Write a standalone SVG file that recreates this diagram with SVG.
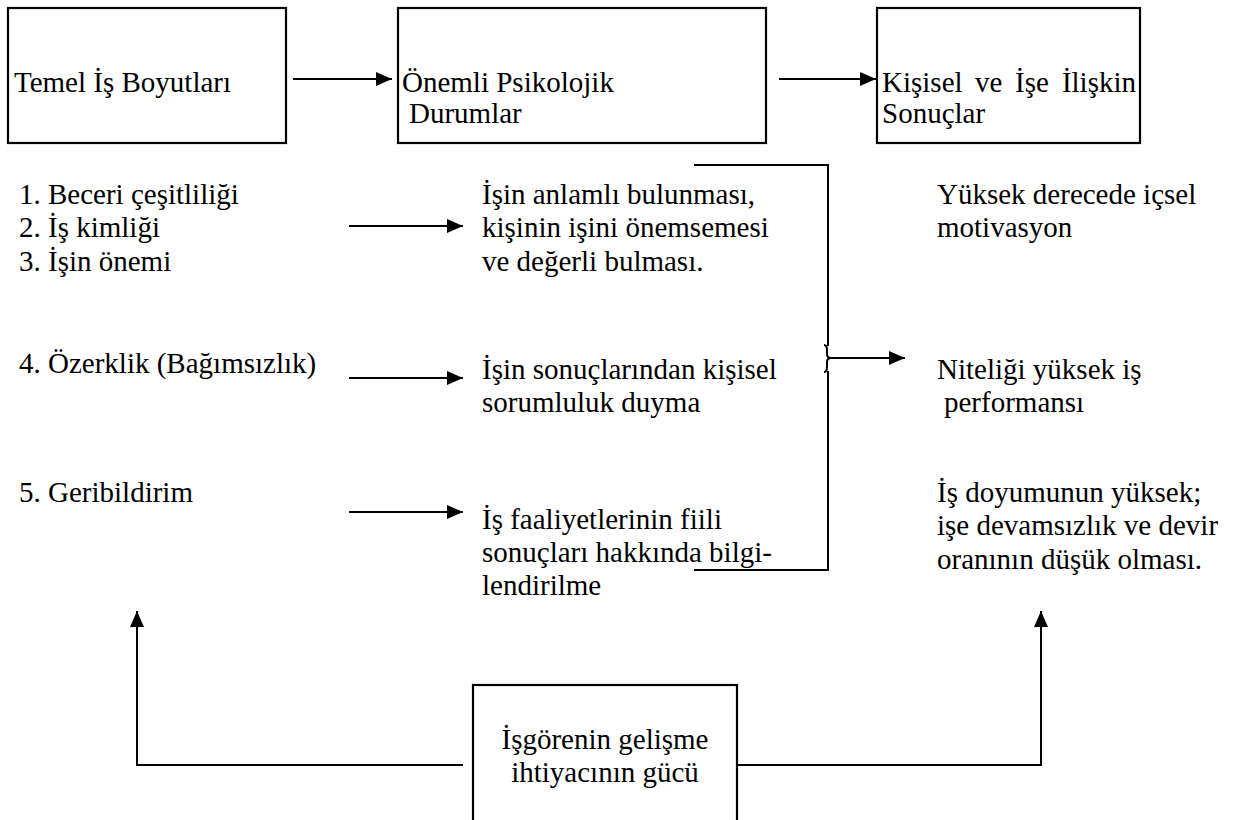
<svg xmlns="http://www.w3.org/2000/svg" width="1241" height="820" viewBox="0 0 1241 820">
<style>
text{font-family:"Liberation Serif","Times New Roman",serif;font-size:29px;fill:#000}
.box{fill:#fff;stroke:#000;stroke-width:2.2}
.ln{fill:none;stroke:#000;stroke-width:2}
</style>
<defs>
<marker id="ah" markerUnits="userSpaceOnUse" markerWidth="18" markerHeight="16" refX="16" refY="7" orient="auto">
<path d="M0,0 L16,7 L0,14 Z" fill="#000"/>
</marker>
</defs>
<rect width="1241" height="820" fill="#fff"/>
<g id="n-temel"><rect class="box" x="8" y="8" width="278" height="135"/><text x="14" y="92">Temel İş Boyutları</text></g>
<g id="n-onemli"><rect class="box" x="398" y="8" width="368" height="135"/><text x="402" y="92">Önemli Psikolojik</text><text x="409" y="123">Durumlar</text></g>
<g id="n-kisisel"><rect class="box" x="877" y="8" width="263" height="135"/><text y="92"><tspan x="882">Kişisel</tspan><tspan x="975">ve</tspan><tspan x="1015">İşe</tspan><tspan x="1136" text-anchor="end">İlişkin</tspan></text><text x="882" y="123">Sonuçlar</text></g>
<g id="n-boyutlar-1"><text x="19" y="204">1. Beceri çeşitliliği</text><text x="19" y="237">2. İş kimliği</text><text x="19" y="271">3. İşin önemi</text></g>
<g id="n-boyutlar-2"><text x="19" y="373">4. Özerklik (Bağımsızlık)</text></g>
<g id="n-boyutlar-3"><text x="19" y="502">5. Geribildirim</text></g>
<g id="n-durum-1"><text x="482" y="204">İşin anlamlı bulunması,</text><text x="482" y="237">kişinin işini önemsemesi</text><text x="482" y="271">ve değerli bulması.</text></g>
<g id="n-durum-2"><text x="482" y="379">İşin sonuçlarından kişisel</text><text x="482" y="412">sorumluluk duyma</text></g>
<g id="n-durum-3"><text x="482" y="529">İş faaliyetlerinin fiili</text><text x="482" y="562">sonuçları hakkında bilgi-</text><text x="482" y="595">lendirilme</text></g>
<g id="n-sonuc-1"><text x="937" y="204">Yüksek derecede içsel</text><text x="937" y="237">motivasyon</text></g>
<g id="n-sonuc-2"><text x="937" y="379">Niteliği yüksek iş</text><text x="944" y="412">performansı</text></g>
<g id="n-sonuc-3"><text x="937" y="502">İş doyumunun yüksek;</text><text x="937" y="535">işe devamsızlık ve devir</text><text x="937" y="569">oranının düşük olması.</text></g>
<g id="n-isgoren"><rect class="box" x="473" y="685" width="264" height="145"/><text x="605" y="749" text-anchor="middle">İşgörenin gelişme</text><text x="605" y="782" text-anchor="middle">ihtiyacının gücü</text></g>
<g id="connectors">
<line class="ln" x1="293" y1="79" x2="392" y2="79" marker-end="url(#ah)"/>
<line class="ln" x1="779" y1="79" x2="876" y2="79" marker-end="url(#ah)"/>
<line class="ln" x1="349" y1="226" x2="463" y2="226" marker-end="url(#ah)"/>
<line class="ln" x1="349" y1="378" x2="463" y2="378" marker-end="url(#ah)"/>
<line class="ln" x1="349" y1="512" x2="463" y2="512" marker-end="url(#ah)"/>
<path class="ln" d="M694,165 H828 V346"/>
<path class="ln" d="M694,570 H828 V371"/>
<path class="ln" d="M824,345 Q827,345 827,350 L827,354 Q827,358 831,358 Q827,358 827,362 L827,367 Q827,372 824,372"/>
<line class="ln" x1="831" y1="358" x2="905" y2="358" marker-end="url(#ah)"/>
<path class="ln" d="M463,765 H137 V611" marker-end="url(#ah)"/>
<path class="ln" d="M737,765 H1041 V611" marker-end="url(#ah)"/>
</g>
</svg>
